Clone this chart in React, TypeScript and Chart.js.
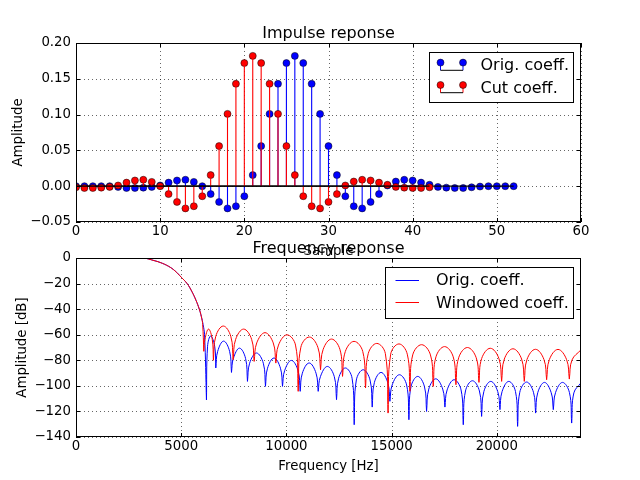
import React, { useEffect, useRef } from "react";
import { Chart, registerables } from "chart.js";

Chart.register(...registerables);

const FONT = '"DejaVu Sans", "Liberation Sans", sans-serif';
const BLUE = "#0000ff";
const RED = "#ff0000";

// ---------- Impulse response (top) ----------
const origCoeff = [
  0, 0, 0, 0, 0, -0.001, -0.0025, -0.0025, -0.002, -0.001,
  0.001, 0.005, 0.008, 0.009, 0.006, 0.0, -0.011, -0.022, -0.031, -0.028,
  -0.014, 0.0155, 0.056, 0.101, 0.143, 0.172, 0.182, 0.172, 0.143, 0.101,
  0.056, 0.0155, -0.014, -0.028, -0.031, -0.022, -0.011, 0.001, 0.0065, 0.009,
  0.008, 0.005, 0.002, -0.001, -0.002, -0.0025, -0.0025, -0.0015, -0.0005, 0,
  0, 0, 0,
];
const cutCoeff = [
  -0.0015, -0.0025, -0.0025, -0.002, -0.001, 0.001, 0.005, 0.008, 0.009, 0.006,
  0.0, -0.011, -0.022, -0.031, -0.028, -0.014, 0.0155, 0.056, 0.101, 0.143,
  0.172, 0.182, 0.172, 0.143, 0.101, 0.056, 0.0155, -0.014, -0.028, -0.031,
  -0.022, -0.011, 0.001, 0.0065, 0.009, 0.008, 0.005, 0.002, -0.001, -0.002,
  -0.0025, -0.0025, -0.0015,
];
const sampleTicks = [0, 10, 20, 30, 40, 50, 60];
const amplitudeTicks = [-0.05, 0, 0.05, 0.1, 0.15, 0.2];

// ---------- Frequency response (bottom): [Hz, dB] ----------
const origResponse: [number, number][] = [
  [0, 1.5], [1500, 1.5], [3000, 0.8], [3267, 0], [3600, -1.5], [4000, -3.5], [4400, -6.5],
  [4700, -10], [5000, -15], [5280, -20], [5500, -26], [5700, -33], [5860, -40], [5960, -46],
  [6040, -52], [6110, -60],
  [6200, -111], [6200, -111], [6253, -69], [6400, -61], [6591, -69],
  [6644, -86], [6644, -86], [6733, -73], [7016, -65], [7300, -73],
  [7389, -89.5], [7389, -89.5], [7480, -78.5], [7769, -70.5], [8058, -78.5],
  [8149, -96.5], [8149, -96.5], [8252, -82.3], [8577, -74.3], [8902, -82.3],
  [9005, -100.4], [9005, -100.4], [9102, -86.2], [9410, -78.2], [9717, -86.2],
  [9814, -100.4], [9814, -100.4], [9915, -88.1], [10234, -80.1], [10553, -88.1],
  [10654, -104.3], [10654, -104.3], [10757, -90.1], [11082, -82.1], [11407, -90.1],
  [11510, -104.3], [11510, -104.3], [11615, -92.8], [11946, -84.8], [12276, -92.8],
  [12381, -110.8], [12381, -110.8], [12482, -94], [12801, -86], [13120, -94],
  [13221, -130.4], [13221, -130.4], [13324, -95.4], [13649, -87.4], [13974, -95.4],
  [14077, -116.6], [14077, -116.6], [14178, -97.5], [14498, -89.5], [14817, -97.5],
  [14918, -112.1], [14918, -112.1], [15026, -99.3], [15370, -91.3], [15713, -99.3],
  [15821, -126.5], [15821, -126.5], [15922, -100.6], [16241, -92.6], [16560, -100.6],
  [16661, -120], [16661, -120], [16766, -102.5], [17097, -94.5], [17428, -102.5],
  [17533, -116.6], [17533, -116.6], [17638, -103.2], [17969, -95.2], [18300, -103.2],
  [18405, -130.4], [18405, -130.4], [18510, -104], [18841, -96], [19172, -104],
  [19277, -123.9], [19277, -123.9], [19382, -104.5], [19712, -96.5], [20043, -104.5],
  [20148, -118.6], [20148, -118.6], [20249, -104.5], [20568, -96.5], [20887, -104.5],
  [20988, -131.7], [20988, -131.7], [21091, -105], [21416, -97], [21741, -105],
  [21844, -121.3], [21844, -121.3], [21945, -105.3], [22264, -97.3], [22583, -105.3],
  [22684, -118.6], [22684, -118.6], [22789, -105.3], [23120, -97.3], [23451, -105.3],
  [23556, -129.1], [23556, -129.1], [23661, -105.5], [24000, -97.6],
];
const windowedResponse: [number, number][] = [
  [0, 1.5], [1500, 1.5], [3000, 0.8], [3267, 0], [3600, -1.5], [4000, -3.5], [4400, -6.5],
  [4700, -10], [5000, -15], [5280, -20], [5500, -26], [5700, -33], [5860, -40], [5960, -46],
  [6020, -52],
  [6073, -73], [6073, -73], [6128, -63.6], [6300, -55.6], [6475, -63.6],
  [6530, -80], [6530, -80], [6643, -61.2], [6999, -53.2], [7355, -61.2],
  [7468, -79.5], [7468, -79.5], [7588, -63.6], [7967, -55.6], [8346, -63.6],
  [8466, -80.9], [8466, -80.9], [8590, -66.4], [8982, -58.4], [9373, -66.4],
  [9497, -82.2], [9497, -82.2], [9624, -68.1], [10028, -60.1], [10432, -68.1],
  [10559, -104.3], [10559, -104.3], [10686, -69.8], [11090, -61.8], [11494, -69.8],
  [11621, -87.4], [11621, -87.4], [11747, -71.4], [12144, -63.4], [12541, -71.4],
  [12667, -92.6], [12667, -92.6], [12798, -73.2], [13214, -65.2], [13629, -73.2],
  [13760, -101.7], [13760, -101.7], [13888, -74.8], [14295, -66.8], [14702, -74.8],
  [14830, -121.3], [14830, -121.3], [14955, -75.2], [15350, -67.2], [15744, -75.2],
  [15869, -104.3], [15869, -104.3], [16002, -75.8], [16424, -67.8], [16845, -75.8],
  [16978, -100.4], [16978, -100.4], [17107, -77.3], [17517, -69.3], [17927, -77.3],
  [18056, -99.1], [18056, -99.1], [18187, -78], [18603, -70], [19019, -78],
  [19150, -97.3], [19150, -97.3], [19279, -78.6], [19689, -70.6], [20099, -78.6],
  [20228, -96.5], [20228, -96.5], [20357, -79], [20766, -71], [21176, -79],
  [21305, -96.5], [21305, -96.5], [21432, -79.4], [21836, -71.4], [22240, -79.4],
  [22367, -95.2], [22367, -95.2], [22496, -79.5], [22906, -71.5], [23316, -79.5],
  [23445, -94.7], [23445, -94.7], [23574, -79.7], [24000, -71.8],
];
const freqTicks = [0, 5000, 10000, 15000, 20000];
const dbTicks = [0, -20, -40, -60, -80, -100, -120, -140];

const withMinus = (s: string) => s.replace("-", "\u2212");

type Area = { left: number; right: number; top: number; bottom: number };
type LegendFn = (ctx: CanvasRenderingContext2D, a: Area) => void;

function decor(id: string, title: string, xlabel: string, ylabel: string, ylabelX: number, legend: LegendFn) {
  return {
    id,
    beforeDatasetsDraw(chart: any) {
      const { ctx, chartArea: a, scales } = chart;
      const x = scales.x;
      const y = scales.y;
      ctx.save();
      ctx.strokeStyle = "rgba(0,0,0,0.6)";
      ctx.lineWidth = 1;
      ctx.setLineDash([1, 3]);
      x.ticks.forEach((t: any) => {
        const p = Math.round(x.getPixelForValue(t.value)) + 0.5;
        ctx.beginPath();
        ctx.moveTo(p, a.top);
        ctx.lineTo(p, a.bottom);
        ctx.stroke();
      });
      y.ticks.forEach((t: any) => {
        const p = Math.round(y.getPixelForValue(t.value)) + 0.5;
        ctx.beginPath();
        ctx.moveTo(a.left, p);
        ctx.lineTo(a.right, p);
        ctx.stroke();
      });
      ctx.restore();
    },
    afterDatasetsDraw(chart: any) {
      const { ctx, chartArea: a, scales } = chart;
      const x = scales.x;
      const y = scales.y;
      ctx.save();
      ctx.strokeStyle = "#000";
      ctx.lineWidth = 1;
      ctx.setLineDash([]);
      // inward ticks on four sides
      x.ticks.forEach((t: any) => {
        const p = Math.round(x.getPixelForValue(t.value)) + 0.5;
        ctx.beginPath();
        ctx.moveTo(p, a.bottom);
        ctx.lineTo(p, a.bottom - 4);
        ctx.moveTo(p, a.top);
        ctx.lineTo(p, a.top + 4);
        ctx.stroke();
      });
      y.ticks.forEach((t: any) => {
        const p = Math.round(y.getPixelForValue(t.value)) + 0.5;
        ctx.beginPath();
        ctx.moveTo(a.left, p);
        ctx.lineTo(a.left + 4, p);
        ctx.moveTo(a.right, p);
        ctx.lineTo(a.right - 4, p);
        ctx.stroke();
      });
      ctx.strokeRect(a.left + 0.5, a.top + 0.5, a.right - a.left - 1, a.bottom - a.top - 1);
      legend(ctx, a);
      ctx.restore();
    },
    afterDraw(chart: any) {
      const { ctx, chartArea: a } = chart;
      ctx.save();
      ctx.fillStyle = "#000";
      ctx.textAlign = "center";
      ctx.textBaseline = "alphabetic";
      ctx.font = `16px ${FONT}`;
      ctx.fillText(title, (a.left + a.right) / 2, a.top - 5.5);
      ctx.font = `13.3px ${FONT}`;
      ctx.fillText(xlabel, (a.left + a.right) / 2, a.bottom + 33);
      ctx.translate(ylabelX, (a.top + a.bottom) / 2);
      ctx.rotate(-Math.PI / 2);
      ctx.textBaseline = "middle";
      ctx.fillText(ylabel, 0, 0);
      ctx.restore();
    },
  };
}

const impulseLegend: LegendFn = (ctx, a) => {
  const w = 144;
  const h = 50;
  const bx = Math.round(a.right - 8 - w);
  const by = Math.round(a.top + 9);
  ctx.fillStyle = "#fff";
  ctx.fillRect(bx, by, w, h);
  ctx.strokeStyle = "#000";
  ctx.lineWidth = 1;
  ctx.strokeRect(bx + 0.5, by + 0.5, w, h);
  const rows = [
    { label: "Orig. coeff.", color: BLUE },
    { label: "Cut coeff.", color: RED },
  ];
  rows.forEach((r, i) => {
    const base = by + 18.3 + i * 22.4;
    const my = base - 7.7;
    const x1 = bx + 11.5;
    const x2 = bx + 34;
    ctx.lineWidth = 1;
    ctx.strokeStyle = r.color;
    [x1, x2].forEach((xx) => {
      ctx.beginPath();
      ctx.moveTo(xx, my);
      ctx.lineTo(xx, base);
      ctx.stroke();
    });
    ctx.strokeStyle = "#000";
    ctx.beginPath();
    ctx.moveTo(x1, base);
    ctx.lineTo(x2, base);
    ctx.stroke();
    [x1, x2].forEach((xx) => {
      ctx.beginPath();
      ctx.arc(xx, my, 3.5, 0, Math.PI * 2);
      ctx.fillStyle = r.color;
      ctx.fill();
      ctx.lineWidth = 0.5;
      ctx.strokeStyle = "#000";
      ctx.stroke();
    });
    ctx.fillStyle = "#000";
    ctx.font = `16px ${FONT}`;
    ctx.textAlign = "left";
    ctx.textBaseline = "alphabetic";
    ctx.fillText(r.label, bx + 51.5, base);
  });
};

const freqLegend: LegendFn = (ctx, a) => {
  const w = 188;
  const h = 51;
  const bx = Math.round(a.right - 8 - w);
  const by = Math.round(a.top + 9);
  ctx.fillStyle = "#fff";
  ctx.fillRect(bx, by, w, h);
  ctx.strokeStyle = "#000";
  ctx.lineWidth = 1;
  ctx.strokeRect(bx + 0.5, by + 0.5, w, h);
  const rows = [
    { label: "Orig. coeff.", color: BLUE },
    { label: "Windowed coeff.", color: RED },
  ];
  rows.forEach((r, i) => {
    const base = by + 18.3 + i * 22.4;
    const ly = Math.round(base - 5.7) + 0.5;
    ctx.strokeStyle = r.color;
    ctx.lineWidth = 1;
    ctx.beginPath();
    ctx.moveTo(bx + 10.5, ly);
    ctx.lineTo(bx + 34, ly);
    ctx.stroke();
    ctx.fillStyle = "#000";
    ctx.font = `16px ${FONT}`;
    ctx.textAlign = "left";
    ctx.textBaseline = "alphabetic";
    ctx.fillText(r.label, bx + 51, base);
  });
};

function axis(ticks: number[], min: number, max: number, fmt: (v: number) => string, isX: boolean) {
  return {
    type: "linear",
    min,
    max,
    offset: false,
    grid: { display: false, drawTicks: false, tickLength: 0, offset: false },
    border: { display: false },
    afterBuildTicks: (s: any) => {
      s.ticks = ticks.map((v) => ({ value: v }));
    },
    afterFit: (s: any) => {
      if (isX) s.height = 20;
      else s.width = 76;
    },
    ticks: {
      color: "#000",
      font: { family: FONT, size: 13.3 },
      padding: isX ? 2 : 5,
      autoSkip: false,
      maxRotation: 0,
      minRotation: 0,
      callback: (v: any) => fmt(Number(v)),
    },
  };
}

const common = {
  responsive: false,
  animation: false,
  devicePixelRatio: 1,
  events: [],
  plugins: {
    legend: { display: false },
    tooltip: { enabled: false },
    title: { display: false },
  },
};

function stemSets(values: number[], color: string) {
  const pts = values.map((v, i) => ({ x: i, y: v }));
  return [
    {
      type: "line",
      data: [
        { x: 0, y: 0 },
        { x: values.length - 1, y: 0 },
      ],
      borderColor: "#000",
      borderWidth: 1.2,
      pointRadius: 0,
      showLine: true,
      tension: 0,
    },
    {
      type: "bar",
      data: pts,
      backgroundColor: color,
      borderWidth: 0,
      barThickness: 1.1,
      grouped: false,
      inflateAmount: 0,
    },
    {
      type: "scatter",
      data: pts,
      showLine: false,
      pointRadius: 3.5,
      pointBackgroundColor: color,
      pointBorderColor: "#000",
      pointBorderWidth: 0.5,
    },
  ];
}

export default function App() {
  const topRef = useRef<HTMLCanvasElement>(null);
  const botRef = useRef<HTMLCanvasElement>(null);

  useEffect(() => {
    const top = new Chart(topRef.current as HTMLCanvasElement, {
      type: "scatter",
      data: {
        datasets: [...stemSets(cutCoeff, RED), ...stemSets(origCoeff, BLUE)] as any,
      },
      options: {
        ...common,
        layout: { padding: { left: 0, right: 59, top: 43, bottom: 238 } },
        scales: {
          x: axis(sampleTicks, 0, 60, (v) => String(v), true),
          y: axis(amplitudeTicks, -0.05, 0.2, (v) => withMinus(v.toFixed(2)), false),
        },
      } as any,
      plugins: [decor("impulseDecor", "Impulse reponse", "Sample", "Amplitude", 18.5, impulseLegend)],
    });

    const bottom = new Chart(botRef.current as HTMLCanvasElement, {
      type: "scatter",
      data: {
        datasets: [
          {
            type: "line",
            data: windowedResponse.map(([f, d]) => ({ x: f, y: d })),
            borderColor: RED,
            borderWidth: 1,
            pointRadius: 0,
            showLine: true,
            tension: 0.4,
          },
          {
            type: "line",
            data: origResponse.map(([f, d]) => ({ x: f, y: d })),
            borderColor: BLUE,
            borderWidth: 1,
            pointRadius: 0,
            showLine: true,
            tension: 0.4,
          },
        ] as any,
      },
      options: {
        ...common,
        layout: { padding: { left: 0, right: 59, top: 258, bottom: 23 } },
        scales: {
          x: axis(freqTicks, 0, 24000, (v) => String(v), true),
          y: axis(dbTicks, -140, 0, (v) => withMinus(String(v)), false),
        },
      } as any,
      plugins: [decor("freqDecor", "Frequency reponse", "Frequency [Hz]", "Amplitude [dB]", 22.5, freqLegend)],
    });

    return () => {
      top.destroy();
      bottom.destroy();
    };
  }, []);

  return (
    <div style={{ position: "absolute", left: 0, top: 0, width: 640, height: 480, background: "#fff" }}>
      <canvas ref={topRef} width={640} height={480} style={{ position: "absolute", left: 0, top: 0 }} />
      <canvas ref={botRef} width={640} height={480} style={{ position: "absolute", left: 0, top: 0 }} />
    </div>
  );
}
